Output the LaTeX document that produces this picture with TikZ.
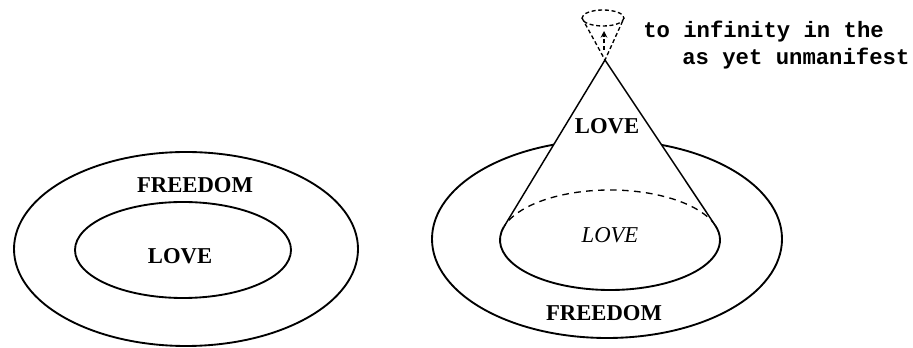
\documentclass[tikz,border=0pt]{standalone}
\usepackage{fontspec}
\setmainfont{Liberation Serif}
\setmonofont{Liberation Mono}
\usepackage{tikz}
\usetikzlibrary{arrows.meta, calc}

\begin{document}
\begin{tikzpicture}[x=0.75pt, y=-0.75pt,
    ring/.style={line width=1.4pt},
    coneline/.style={line width=1.1pt},
    hidden/.style={line width=1pt, dash pattern=on 5pt off 4pt},
    tiny/.style={line width=1pt, dash pattern=on 3pt off 2pt},
    lbl/.style={font=\fontsize{17}{20}\selectfont\bfseries, inner sep=0pt},
    note/.style={font=\fontsize{16.7}{20}\selectfont\ttfamily\bfseries, anchor=base west, inner sep=0pt}]
  \useasboundingbox (0,0) rectangle (913,348);

  % left: love held inside freedom
  \coordinate (outerL) at (186,249);
  \coordinate (innerL) at (183,250);
  \draw[ring] (outerL) ellipse [x radius=172, y radius=97];
  \draw[ring] (innerL) ellipse [x radius=108, y radius=48];
  \node[lbl] (freedomL) at (195,185) {FREEDOM};
  \node[lbl] (loveL) at (180,256) {LOVE};

  % right: the cone of love rising out of freedom
  \coordinate (outerR) at (607,239);
  \coordinate (base) at (610,240);
  \coordinate (apex) at (605,60);
  \coordinate (tanL) at ($(base)+(195.4:110 and 50)$);
  \coordinate (tanR) at ($(base)+(-16.8:110 and 50)$);
  \draw[ring] (outerR) ellipse [x radius=175, y radius=99];
  \fill[white] (apex) -- (tanL) arc [start angle=195.4, end angle=-16.8, x radius=110, y radius=50] -- cycle;
  \draw[coneline] (tanL) -- (apex) -- (tanR);
  \draw[ring] (tanL) arc [start angle=195.4, end angle=-16.8, x radius=110, y radius=50];
  \draw[hidden] (tanR) arc [start angle=-16.8, end angle=-164.6, x radius=110, y radius=50];

  % the open top, going on upwards
  \coordinate (cap) at (603,18);
  \draw[tiny] (cap) ellipse [x radius=21, y radius=8];
  \draw[tiny] ($(cap)+(-21,0)$) -- (apex) -- ($(cap)+(21,0)$);
  \draw[tiny, -{Stealth[length=5pt, width=5pt]}] ($(apex)+(-1,-10)$) -- ($(cap)+(1,13)$);

  \node[lbl] (loveTop) at (607,126) {LOVE};
  \node[lbl, font=\fontsize{17}{20}\selectfont\itshape] (loveBase) at (610,235) {LOVE};
  \node[lbl] (freedomR) at (604,313) {FREEDOM};

  \node[note] (note1) at (643,38) {to infinity in the};
  \node[note] (note2) at (682,65) {as yet unmanifest};
\end{tikzpicture}
\end{document}
